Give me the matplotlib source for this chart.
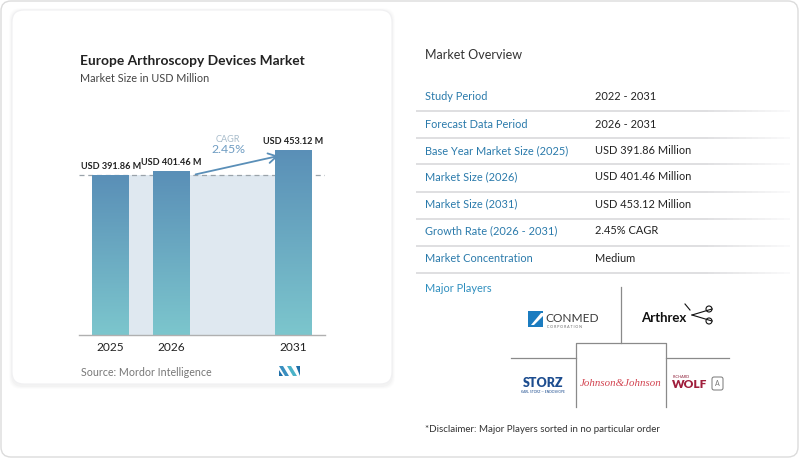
import matplotlib
matplotlib.use("Agg")
import matplotlib.pyplot as plt
import numpy as np
from matplotlib.patches import FancyBboxPatch, Rectangle, Polygon, Circle
from matplotlib.colors import LinearSegmentedColormap

plt.rcParams['font.family'] = ['Lato', 'DejaVu Sans']

# ---- data ----
years = ["2025", "2026", "2031"]
values = [391.86, 401.46, 453.12]
value_labels = ["USD 391.86 M", "USD 401.46 M", "USD 453.12 M"]
cagr_text = "2.45%"
title = "Europe Arthroscopy Devices Market"
subtitle = "Market Size in USD Million"
source = "Source: Mordor Intelligence"
table_labels = ["Study Period", "Forecast Data Period", "Base Year Market Size (2025)",
                "Market Size (2026)", "Market Size (2031)", "Growth Rate (2026 - 2031)",
                "Market Concentration"]
table_values = ["2022 - 2031", "2026 - 2031", "USD 391.86 Million", "USD 401.46 Million",
                "USD 453.12 Million", "2.45% CAGR", "Medium"]

W, H = 800, 459
fig = plt.figure(figsize=(W / 100, H / 100), dpi=100)
fig.patch.set_facecolor("white")

bg = fig.add_axes([0, 0, 1, 1], zorder=0)
bg.set_xlim(0, W)
bg.set_ylim(H, 0)
bg.axis("off")

# outer card
bg.add_patch(FancyBboxPatch((1, 1), W - 3, H - 3, boxstyle="round,pad=0,rounding_size=10",
                            fc="white", ec="#dcdcdc", lw=1.0))
# left card shadow + card
for i, a in enumerate([0.025, 0.035, 0.05]):
    d = 3 - i
    bg.add_patch(FancyBboxPatch((12 - d, 10 - d + 1), 380 + 2 * d, 375 + 2 * d,
                                boxstyle="round,pad=0,rounding_size=12",
                                fc=(0.6, 0.6, 0.65, a), ec="none"))
bg.add_patch(FancyBboxPatch((12, 10), 380, 374, boxstyle="round,pad=0,rounding_size=12",
                            fc="white", ec="#f0f0f2", lw=0.8))

# titles
bg.text(80, 61, title, fontsize=9.9, fontweight="bold", color="#222222", va="center", ha="left")
bg.text(80, 78, subtitle, fontsize=7.8, color="#444444", va="center", ha="left")
bg.text(81, 372, source, fontsize=7.7, color="#777777", va="center", ha="left")
# Mordor logo
bg.add_patch(Polygon([[279, 366], [283, 366], [289, 376], [285, 376]], closed=True, fc="#3a8fc0", ec="none"))
bg.add_patch(Polygon([[279, 370], [283, 376], [279, 376]], closed=True, fc="#1f6fa8", ec="none"))
bg.add_patch(Polygon([[287, 366], [291, 366], [297, 376], [293, 376]], closed=True, fc="#4bb3c8", ec="none"))
bg.add_patch(Polygon([[296, 366], [300, 366], [300, 376]], closed=True, fc="#1f6fa8", ec="none"))

# ---- bar chart axes ----
ax_left, ax_right = 79, 325
base_y, top_y = 335, 120
xlo, xhi = -0.52, 3.52
ax = fig.add_axes([ax_left / W, (H - base_y) / H, (ax_right - ax_left) / W, (base_y - top_y) / H], zorder=2)
ax.patch.set_alpha(0)
positions = [0, 1, 3]
bw = 0.6
ax.set_xlim(xlo, xhi)
ymax = values[0] * (base_y - top_y) / 160.0
ax.set_ylim(0, ymax)
for s in ["top", "right", "left"]:
    ax.spines[s].set_visible(False)
ax.spines["bottom"].set_color("#b0b0b0")
ax.spines["bottom"].set_linewidth(1.0)
ax.set_yticks([])
ax.set_xticks(positions)
ax.set_xticklabels(years, fontsize=8.6, color="#222222")
ax.tick_params(axis="x", length=0, pad=5)

# shaded band between bars
ax.add_patch(Rectangle((positions[0] + bw / 2, 0), positions[2] - positions[0] - bw, values[0],
                       fc="#dfe8f0", ec="none", zorder=1))
# dashed reference line
ax.axhline(values[0], color="#9aa3aa", lw=0.9, ls=(0, (4, 3)), zorder=1.5)

cmap = LinearSegmentedColormap.from_list("g", ["#7cc6cd", "#5a8fb7"])
grad = np.linspace(0, 1, 256).reshape(-1, 1)
for p, v in zip(positions, values):
    r = Rectangle((p - bw / 2, 0), bw, v, fc="none", ec="none", zorder=2)
    ax.add_patch(r)
    im = ax.imshow(grad, extent=(p - bw / 2, p + bw / 2, 0, v), origin="lower", aspect="auto",
                   cmap=cmap, zorder=2, vmin=0, vmax=1)
    im.set_clip_path(r)
ax.set_xlim(xlo, xhi)
ax.set_ylim(0, ymax)

for p, v, t in zip(positions, values, value_labels):
    ax.annotate(t, (p, v), xytext=(0, 3), textcoords="offset points", ha="center", va="bottom",
                fontsize=6.6, fontweight="bold", color="#222222")

# CAGR arrow
ax.annotate("", xy=(2.8, 440), xytext=(1.35, values[0]),
            arrowprops=dict(arrowstyle="->,head_length=0.6,head_width=0.35", color="#5a8fb8", lw=1.3),
            zorder=3)
ax.text(1.93, 480, "CAGR", fontsize=6.6, color="#a8bccb", ha="center", va="center")
ax.text(1.93, 454, cagr_text, fontsize=8.8, color="#6e9cc2", ha="center", va="center")

# ---- right panel ----
bg.text(425, 55, "Market Overview", fontsize=9.0, color="#333333", va="center", ha="left")
row_y = [97, 124, 151, 177, 204, 231, 258]
sep_y = [111, 138, 164, 191.5, 218.5, 245.5, 272.5]
for y, lab, val in zip(row_y, table_labels, table_values):
    bg.text(425, y, lab, fontsize=7.95, color="#2a7aab", va="center", ha="left")
    bg.text(595, y, val, fontsize=7.9, color="#222222", va="center", ha="left")
for y in sep_y:
    xs = np.linspace(416, 790, 60)
    for i in range(len(xs) - 1):
        a = 1.0 if xs[i] < 700 else max(0.15, 1 - (xs[i] - 700) / 100)
        bg.plot([xs[i], xs[i + 1]], [y, y], color=(0.85, 0.85, 0.86, a), lw=1.2, solid_capstyle="butt")

bg.text(425, 289, "Major Players", fontsize=7.9, color="#2f8fbf", va="center", ha="left")
# logo grid
lc = "#8a8a8a"
bg.plot([621, 621], [287, 343], color=lc, lw=0.9)
bg.plot([576, 576, 666, 666], [407, 343, 343, 407], color=lc, lw=0.9)
bg.plot([511, 576], [358, 358], color=lc, lw=0.9)
bg.plot([666, 729], [358, 358], color=lc, lw=0.9)

# ConMed
bg.add_patch(Rectangle((528, 311), 15, 16, fc="#1b7cc0", ec="none"))
bg.add_patch(Polygon([[531, 325], [541, 313], [543, 313], [543, 316], [534, 325]], closed=True, fc="white", ec="none"))
bg.text(545, 318, "CONMED", fontsize=8.6, color="#3a3a3a", va="center", ha="left")
bg.text(547, 326.5, "C O R P O R A T I O N", fontsize=2.6, color="#666666", va="center", ha="left")

# Arthrex
bg.text(641, 318, "Arthrex", fontsize=9.5, fontweight="bold", color="#111111", va="center", ha="left")
bg.plot([692, 712], [315, 309], color="#111111", lw=0.8)
bg.plot([692, 712], [315, 321], color="#111111", lw=0.8)
bg.add_patch(Circle((709, 309), 3, fc="none", ec="#111111", lw=0.8))
bg.add_patch(Circle((709, 321), 3, fc="none", ec="#111111", lw=0.8))
bg.plot([685, 690], [304, 310], color="#111111", lw=0.8)

# Storz
bg.text(543, 383, "STORZ", fontsize=9, fontweight="heavy", color="#1d4d8f", va="center", ha="center")
bg.text(543, 392, "KARL STORZ — ENDOSKOPE", fontsize=2.4, color="#1d4d8f", va="center", ha="center")

# Johnson & Johnson
bg.text(621, 383, "Johnson&Johnson", fontsize=7.8, style="italic", color="#d2424f",
        va="center", ha="center", family=["Liberation Serif"])

# Richard Wolf
bg.text(673, 376.5, "RICHARD", fontsize=2.8, color="#8c1b35", va="center", ha="left")
bg.text(672, 385, "WOLF", fontsize=8.6, fontweight="heavy", color="#a01e3c", va="center", ha="left")
bg.add_patch(FancyBboxPatch((712, 377), 11, 13, boxstyle="round,pad=0,rounding_size=2",
                            fc="white", ec="#777777", lw=0.7))
bg.text(717.5, 383.5, "A", fontsize=5, color="#777777", va="center", ha="center")

bg.text(425, 429, "*Disclaimer: Major Players sorted in no particular order", fontsize=7.0,
        color="#333333", va="center", ha="left")

fig.savefig("out.png", dpi=100, facecolor="white")
